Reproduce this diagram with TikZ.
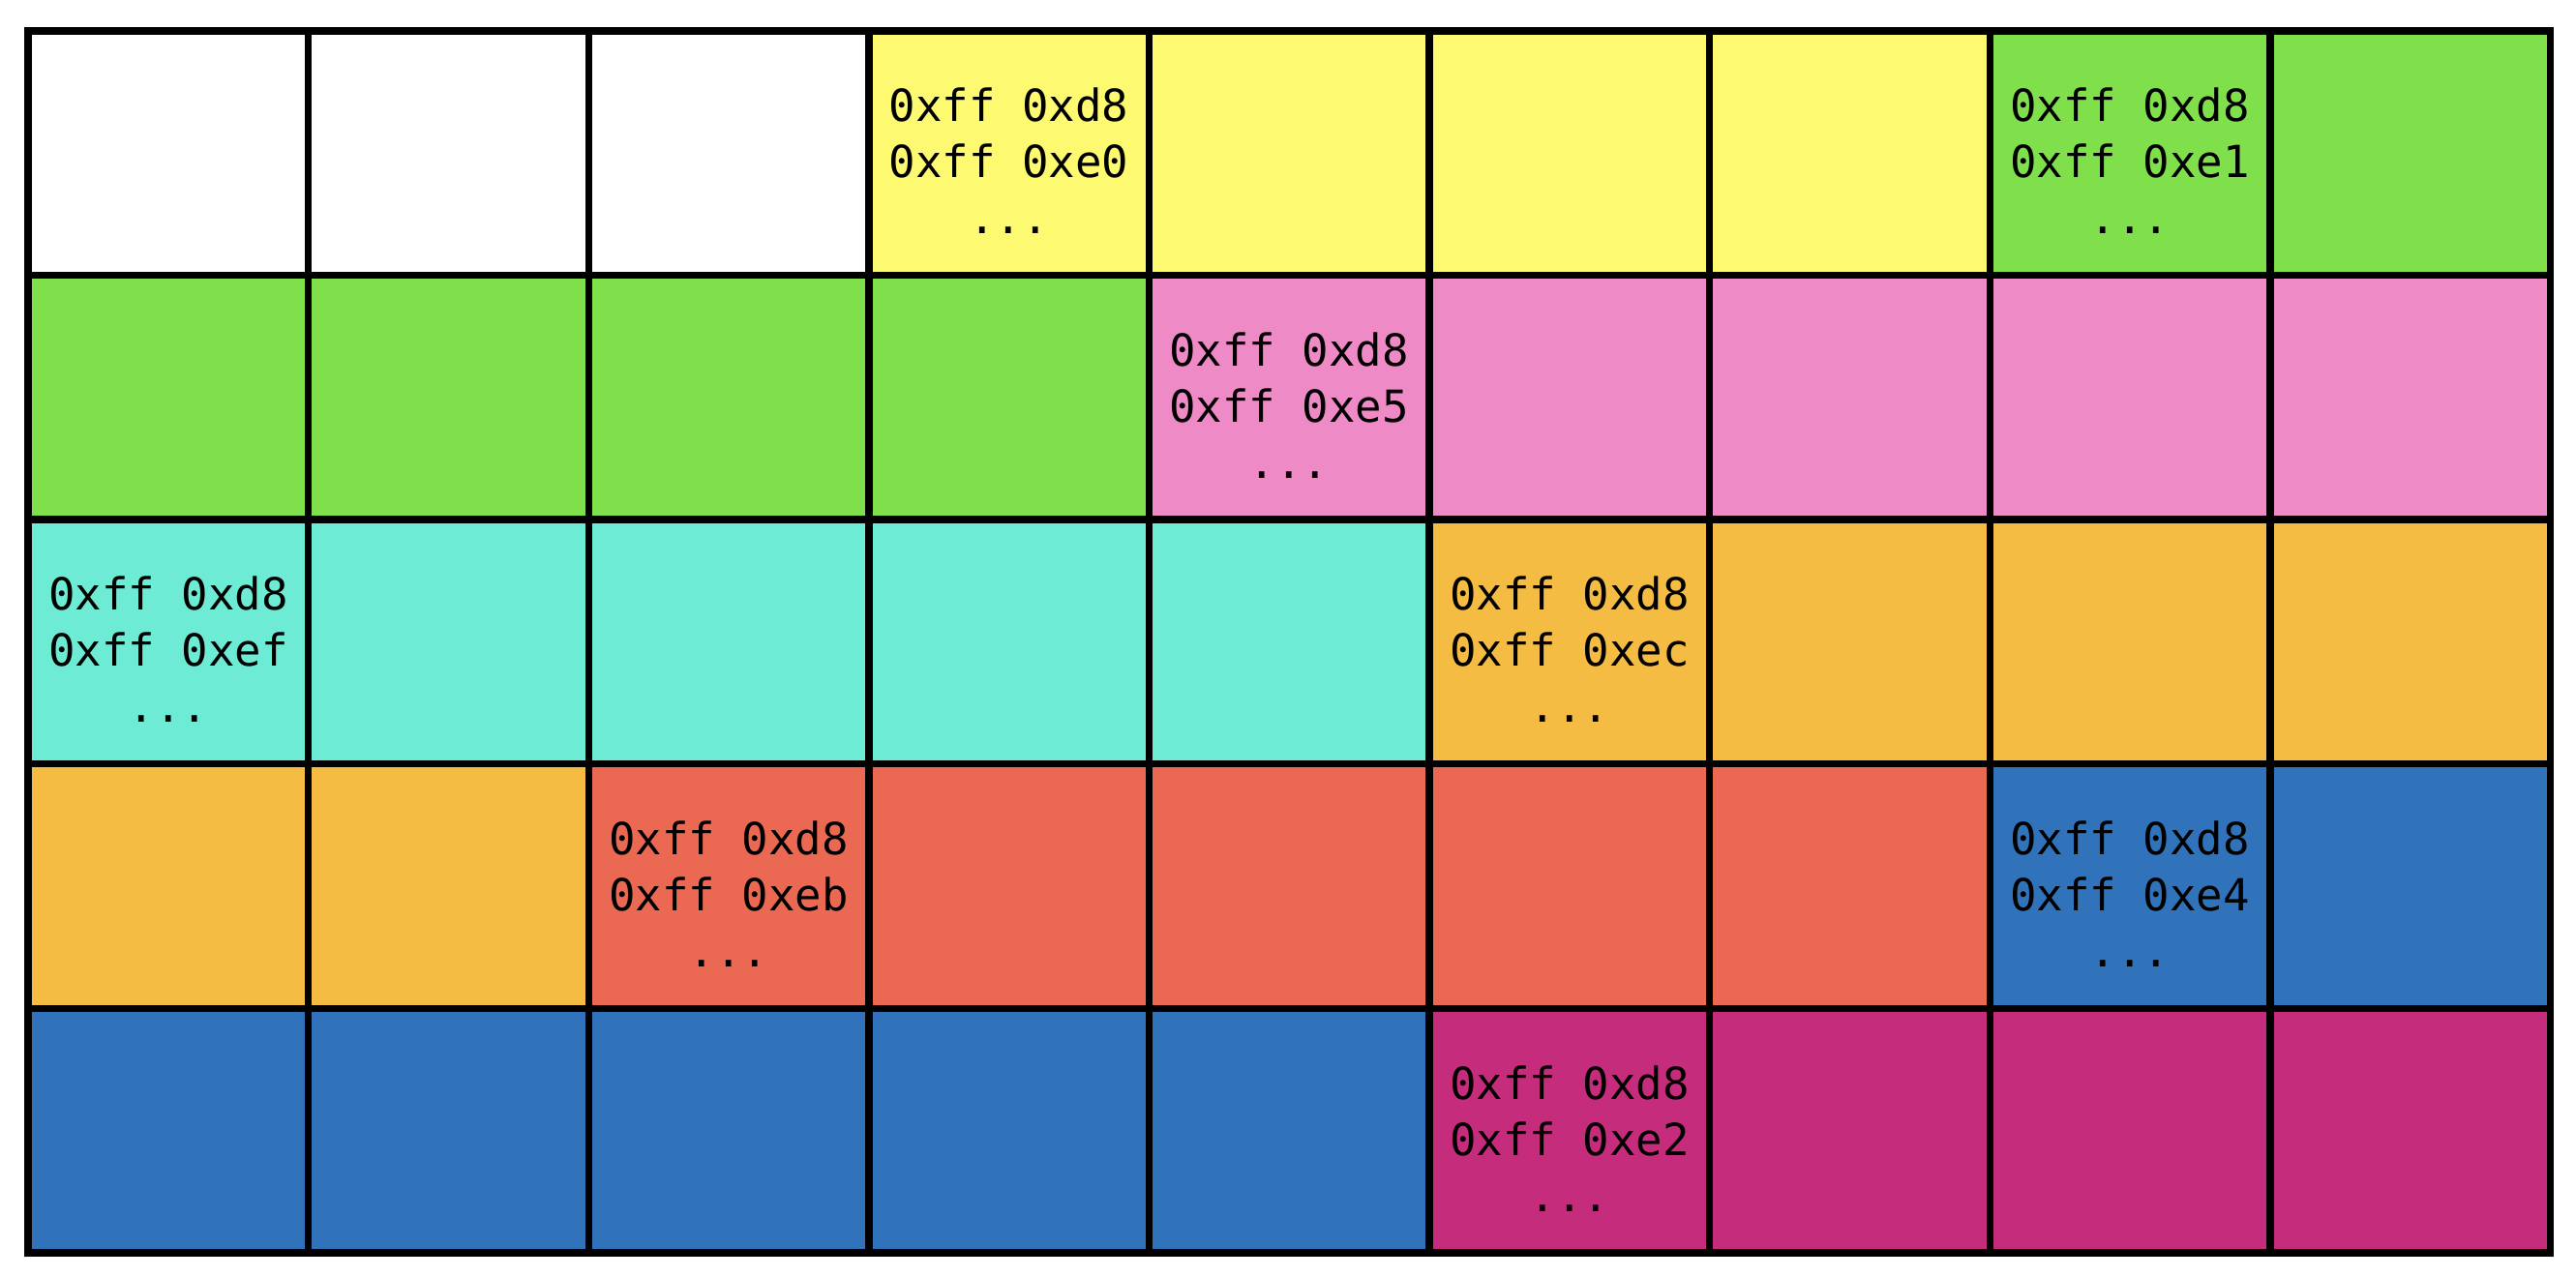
\documentclass[tikz,border=0pt]{standalone}
\usepackage{fontspec}
\newfontfamily\hexfont{DejaVu Sans Mono}
\usetikzlibrary{positioning}

\definecolor{cW}{RGB}{255,255,255}
\definecolor{cY}{RGB}{253,249,112}
\definecolor{cG}{RGB}{128,224,76}
\definecolor{cP}{RGB}{238,139,198}
\definecolor{cC}{RGB}{110,235,212}
\definecolor{cO}{RGB}{244,188,66}
\definecolor{cR}{RGB}{235,105,83}
\definecolor{cB}{RGB}{48,115,186}
\definecolor{cM}{RGB}{198,44,124}

\begin{document}
\begin{tikzpicture}[
  cell/.style={draw=black,line width=2.1pt,minimum width=2.896cm,
    minimum height=2.526cm,inner sep=0pt,outer sep=0pt},
  hex/.style={align=center,inner sep=0pt,
    font=\hexfont\fontsize{13}{16.5}\selectfont}]
  \useasboundingbox (0,0) rectangle (26.62,13.20);

  % coloured blocks, row by row
  \foreach \row/\cols in {0/{cW,cW,cW,cY,cY,cY,cY,cG,cG},
                          1/{cG,cG,cG,cG,cP,cP,cP,cP,cP},
                          2/{cC,cC,cC,cC,cC,cO,cO,cO,cO},
                          3/{cO,cO,cR,cR,cR,cR,cR,cB,cB},
                          4/{cB,cB,cB,cB,cB,cM,cM,cM,cM}} {
    \foreach \c [count=\col from 0] in \cols {
      \node[cell,fill=\c] (cell-\row-\col)
        at ({0.29+(\col+0.5)*2.896},{12.88-(\row+0.5)*2.526}) {};
    }
  }

  % markers
  \foreach \r/\c/\code in {0/3/e0,0/7/e1,1/4/e5,2/0/ef,2/5/ec,3/2/eb,3/7/e4,4/5/e2} {
    \node[hex,below=0.08cm of cell-\r-\c.center,anchor=center] (mark-\code)
      {0xff 0xd8\\0xff 0x\code\\...};
  }
\end{tikzpicture}
\end{document}
